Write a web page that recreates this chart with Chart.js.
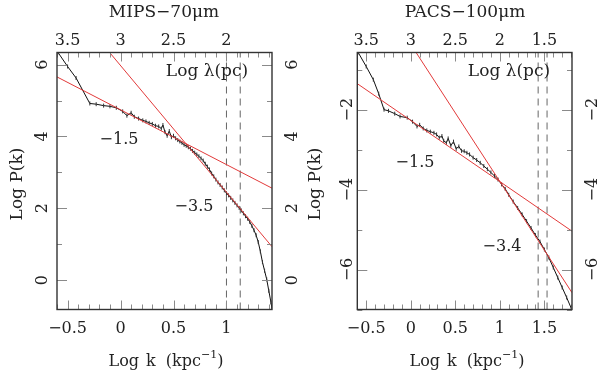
<!DOCTYPE html>
<html>
<head>
<meta charset="utf-8">
<script src="https://cdn.jsdelivr.net/npm/chart.js@4.4.0/dist/chart.umd.min.js"></script>
<style>
  html, body { margin: 0; padding: 0; background: #fff; }
  #wrap { display: flex; width: 600px; height: 374px; }
  canvas { display: block; }
</style>
</head>
<body>
<div id="wrap">
  <canvas id="mips" width="300" height="374"></canvas>
  <canvas id="pacs" width="300" height="374"></canvas>
</div>
<script>
// ---- MIPS 70um panel ----
const mipsLogK = [-0.59, -0.50, -0.42, -0.29, -0.23, -0.16, -0.10, -0.04, 0.02, 0.06, 0.10, 0.13, 0.17, 0.21,
  0.24, 0.27, 0.30, 0.33, 0.36, 0.385, 0.40, 0.42, 0.44, 0.46, 0.48, 0.50, 0.52, 0.54, 0.56, 0.58, 0.60,
  0.62, 0.64, 0.66, 0.68, 0.70, 0.72, 0.74, 0.76, 0.78, 0.80, 0.82, 0.84, 0.86, 0.88, 0.90, 0.92, 0.94,
  0.96, 0.98, 1.00, 1.02, 1.04, 1.06, 1.08, 1.10, 1.12, 1.14, 1.16, 1.18, 1.20, 1.22, 1.24, 1.26, 1.28,
  1.30, 1.32, 1.34, 1.36, 1.38, 1.40, 1.42, 1.43];
const mipsLogP = [6.34, 5.95, 5.63, 4.92, 4.90, 4.86, 4.84, 4.80, 4.70, 4.58, 4.66, 4.55, 4.50, 4.45,
  4.42, 4.38, 4.35, 4.30, 4.28, 4.22, 4.32, 4.12, 4.02, 4.15, 3.98, 4.02, 3.95, 3.90, 3.86, 3.82, 3.77,
  3.74, 3.70, 3.66, 3.60, 3.55, 3.50, 3.45, 3.39, 3.33, 3.24, 3.16, 3.08, 2.97, 2.89, 2.80, 2.72, 2.65,
  2.58, 2.50, 2.42, 2.36, 2.29, 2.22, 2.15, 2.08, 2.01, 1.94, 1.86, 1.78, 1.71, 1.62, 1.51, 1.39, 1.25,
  1.06, 0.80, 0.50, 0.26, 0.02, -0.30, -0.62, -0.80];
const mipsFitShallowK = [-0.60, 1.43];
const mipsFitShallowP = [5.66, 2.56];
const mipsFitSteepK = [-0.103, 1.43];
const mipsFitSteepP = [6.34, 0.93];
const mipsDashK = [1.0, 1.13];

// ---- PACS 100um panel ----
const pacsLogK = [-0.59, -0.50, -0.42, -0.36, -0.30, -0.25, -0.18, -0.12, -0.04, 0.02, 0.07, 0.10, 0.14,
  0.18, 0.22, 0.26, 0.29, 0.32, 0.35, 0.37, 0.40, 0.42, 0.45, 0.48, 0.51, 0.54, 0.57, 0.60, 0.63, 0.66,
  0.70, 0.74, 0.78, 0.82, 0.86, 0.90, 0.94, 0.98, 1.02, 1.06, 1.10, 1.15, 1.20, 1.25, 1.30, 1.35, 1.40,
  1.45, 1.50, 1.55, 1.60, 1.65, 1.70, 1.75, 1.80];
const pacsLogP = [-0.57, -0.92, -1.25, -1.60, -2.00, -2.03, -2.10, -2.17, -2.20, -2.30, -2.42, -2.38, -2.47,
  -2.52, -2.55, -2.58, -2.62, -2.70, -2.66, -2.78, -2.83, -2.72, -2.90, -2.80, -2.98, -2.92, -3.03, -3.04,
  -3.08, -3.12, -3.20, -3.26, -3.33, -3.41, -3.49, -3.57, -3.66, -3.75, -3.87, -3.98, -4.13, -4.30, -4.46,
  -4.62, -4.79, -4.96, -5.14, -5.30, -5.50, -5.70, -5.95, -6.20, -6.45, -6.70, -6.96];
const pacsFitShallowK = [-0.60, 1.81];
const pacsFitShallowP = [-1.35, -5.04];
const pacsFitSteepK = [0.06, 1.81];
const pacsFitSteepP = [-0.57, -6.58];
const pacsDashK = [1.43, 1.53];

const RED = '#e23a3a';
const INK = '#222';
const FONT = '"DejaVu Serif", serif';

function pts(xs, ys) { return xs.map((x, i) => ({ x: x, y: ys[i] })); }
function minusFmt(v) { return v < 0 ? '\u2212' + Math.abs(v) : String(v); }

// frame, inward ticks, rotated y labels and all annotations
const deco = {
  id: 'deco',
  afterDraw(chart, args, o) {
    const { ctx, chartArea: a, scales: { x, y } } = chart;
    ctx.save();
    ctx.strokeStyle = '#8a8a8a';
    ctx.lineWidth = 1;
    ctx.beginPath();
    for (let i = Math.ceil(x.min * 10); i <= Math.floor(x.max * 10); i++) {
      const px = Math.round(x.getPixelForValue(i / 10)) + 0.5;
      const len = i % 5 === 0 ? 9 : 5;
      ctx.moveTo(px, a.bottom); ctx.lineTo(px, a.bottom - len);
      ctx.moveTo(px, a.top); ctx.lineTo(px, a.top + len);
    }
    for (let i = Math.ceil(y.min); i <= Math.floor(y.max); i++) {
      const py = Math.round(y.getPixelForValue(i)) + 0.5;
      const len = i % 2 === 0 ? 10 : 5;
      ctx.moveTo(a.left, py); ctx.lineTo(a.left + len, py);
      ctx.moveTo(a.right, py); ctx.lineTo(a.right - len, py);
    }
    ctx.stroke();

    ctx.strokeStyle = '#333';
    ctx.lineWidth = 1.4;
    ctx.strokeRect(a.left, a.top, a.right - a.left, a.bottom - a.top);

    ctx.fillStyle = INK;
    ctx.font = '16px ' + FONT;
    ctx.textAlign = 'center';
    ctx.textBaseline = 'alphabetic';
    for (let i = Math.ceil(x.min * 2); i <= Math.floor(x.max * 2); i++) {
      const v = i / 2;
      const px = x.getPixelForValue(v);
      ctx.fillText(minusFmt(v), px, 333);
      ctx.fillText(String(+(3 - v).toFixed(1)), px, 45);
    }
    for (let i = Math.ceil(y.min / 2); i <= Math.floor(y.max / 2); i++) {
      const v = i * 2;
      const py = y.getPixelForValue(v);
      [o.yLabelLeft, o.yLabelRight].forEach(bx => {
        ctx.save();
        ctx.translate(bx, py);
        ctx.rotate(-Math.PI / 2);
        ctx.fillText(minusFmt(v), 0, 0);
        ctx.restore();
      });
    }

    // y axis title
    ctx.font = '17px ' + FONT;
    ctx.save();
    ctx.translate(o.yTitleX, 184);
    ctx.rotate(-Math.PI / 2);
    ctx.fillText('Log P(k)', 0, 0);
    ctx.restore();

    // panel title
    ctx.fillText(o.title, o.titleX, 17);
    ctx.fillText('Log \u03bb(pc)', o.lamX, 76);

    // slope annotations
    ctx.font = '16px ' + FONT;
    o.notes.forEach(n => ctx.fillText(n.t, n.x, n.y));

    // x axis title with superscript
    ctx.font = '16px ' + FONT;
    ctx.textAlign = 'left';
    const parts = ['Log', 'k', '(kpc'];
    const gaps = [7, 10, 0];
    ctx.font = '11px ' + FONT;
    const supW = ctx.measureText('\u22121').width;
    ctx.font = '16px ' + FONT;
    let total = supW + ctx.measureText(')').width;
    parts.forEach((p, i) => { total += ctx.measureText(p).width + gaps[i]; });
    let cx = o.xTitleC - total / 2;
    parts.forEach((p, i) => { ctx.fillText(p, cx, 366); cx += ctx.measureText(p).width + gaps[i]; });
    ctx.font = '11px ' + FONT;
    ctx.fillText('\u22121', cx, 358);
    cx += supW;
    ctx.font = '16px ' + FONT;
    ctx.fillText(')', cx, 366);
    ctx.restore();
  }
};

function makePanel(id, d) {
  const datasets = [
    { data: pts(d.fitK1, d.fitP1), showLine: true, borderColor: RED, borderWidth: 1, pointRadius: 0, order: 0 },
    { data: pts(d.fitK2, d.fitP2), showLine: true, borderColor: RED, borderWidth: 1, pointRadius: 0, order: 0 },
    { data: pts(d.k, d.p), showLine: true, borderColor: '#111', borderWidth: 1,
      pointStyle: 'line', pointRotation: 90, pointRadius: 2, pointBorderColor: '#333', pointBorderWidth: 1, order: 1 }
  ];
  d.dash.forEach(k => {
    datasets.push({ data: [{ x: k, y: d.yMin }, { x: k, y: d.yMax }], showLine: true, borderColor: '#666',
      borderWidth: 1, borderDash: [7, 5], pointRadius: 0, order: 2 });
  });
  return new Chart(document.getElementById(id), {
    type: 'scatter',
    data: { datasets: datasets },
    options: {
      responsive: false,
      animation: false,
      events: [],
      layout: { padding: { left: d.padLeft, right: 28, top: 52.5, bottom: 64.5 } },
      scales: {
        x: { type: 'linear', min: d.xMin, max: d.xMax, display: false },
        y: { type: 'linear', min: d.yMin, max: d.yMax, display: false }
      },
      plugins: { legend: { display: false }, tooltip: { enabled: false }, deco: d.deco }
    },
    plugins: [deco]
  });
}

makePanel('mips', {
  k: mipsLogK, p: mipsLogP,
  fitK1: mipsFitShallowK, fitP1: mipsFitShallowP,
  fitK2: mipsFitSteepK, fitP2: mipsFitSteepP,
  dash: mipsDashK,
  xMin: -0.6, xMax: 1.43, yMin: -0.82, yMax: 6.34, padLeft: 57,
  deco: {
    title: 'MIPS\u221270\u03bcm', titleX: 164, lamX: 207, yTitleX: 22,
    yLabelLeft: 46.5, yLabelRight: 297, xTitleC: 166,
    notes: [{ t: '\u22121.5', x: 119, y: 144 }, { t: '\u22123.5', x: 194, y: 211 }]
  }
});

makePanel('pacs', {
  k: pacsLogK, p: pacsLogP,
  fitK1: pacsFitShallowK, fitP1: pacsFitShallowP,
  fitK2: pacsFitSteepK, fitP2: pacsFitSteepP,
  dash: pacsDashK,
  xMin: -0.6, xMax: 1.81, yMin: -7.0, yMax: -0.57, padLeft: 57.3,
  deco: {
    title: 'PACS\u2212100\u03bcm', titleX: 165, lamX: 209, yTitleX: 20,
    yLabelLeft: 52, yLabelRight: 297, xTitleC: 167,
    notes: [{ t: '\u22121.5', x: 115, y: 167 }, { t: '\u22123.4', x: 202, y: 251 }]
  }
});
</script>
</body>
</html>
